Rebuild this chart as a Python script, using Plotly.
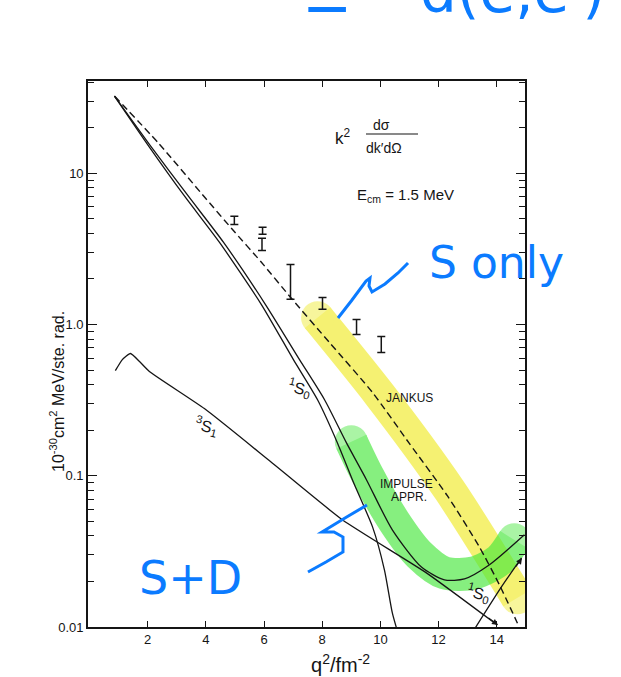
import plotly.graph_objects as go

# ---------------- data (q^2 in fm^-2, k^2 dsigma/dk'dOmega in 1e-30 cm^2 MeV/ste. rad.) ----------------
jankus_q2 = [0.86, 2.40, 4.02, 4.91, 5.91, 6.94, 8.25, 9.73, 11.0, 12.3, 13.4, 14.09, 14.71]
jankus_val = [32.4, 15.6, 6.73, 4.26, 2.58, 1.49, 0.76, 0.355, 0.163, 0.0738, 0.0339, 0.0190, 0.0106]

s0_q2 = [0.86, 2.06, 3.27, 4.47, 5.91, 7.01, 7.84, 8.52, 9.11, 9.73, 10.14, 10.41, 10.62]
s0_val = [32.4, 14.9, 7.05, 3.49, 1.355, 0.586, 0.318, 0.1655, 0.0871, 0.0459, 0.0238, 0.0124, 0.0089]

s0b_q2 = [13.13, 14.16, 14.85]
s0b_val = [0.0090, 0.0184, 0.0286]

impulse_q2 = [0.86, 2.13, 3.40, 4.61, 6.05, 7.22, 8.08, 8.83, 9.52, 10.41, 11.41, 12.2, 12.89, 13.75, 14.95]
impulse_val = [32.4, 14.9, 7.05, 3.49, 1.355, 0.586, 0.318, 0.1655, 0.0942, 0.0439, 0.0249, 0.0205, 0.0208, 0.0258, 0.0407]

s1_q2 = [0.89, 1.13, 1.41, 1.72, 2.06, 3.95, 6.19, 8.69, 11.58, 14.02]
s1_val = [0.495, 0.586, 0.643, 0.569, 0.489, 0.278, 0.1256, 0.0512, 0.0228, 0.0103]

# measured points: error-bar extent
exp_q2 = [4.98, 5.95, 5.93, 6.91, 8.01, 9.18, 10.03]
exp_hi = [5.19, 4.39, 3.72, 2.49, 1.51, 1.08, 0.834]
exp_lo = [4.59, 3.95, 3.09, 1.47, 1.26, 0.86, 0.653]

# hand-drawn highlighter strokes
yellow_q2 = [7.84, 9.97, 12.37, 14.71]
yellow_val = [1.11, 0.344, 0.0807, 0.0156]
green_q2 = [9.0, 9.55, 10.48, 11.34, 12.2, 13.23, 14.09, 14.6]
green_val = [0.168, 0.1016, 0.0496, 0.030, 0.0228, 0.0228, 0.0278, 0.0377]

x_ticks = [2, 4, 6, 8, 10, 12, 14]
y_ticks = [0.01, 0.1, 1.0, 10]
y_tick_text = ["0.01", "0.1", "1.0", "10"]

# ---------------- layout geometry ----------------
W, H = 621, 677
L, R, T, B = 88, 525, 81, 627
INK = "#151515"
BLUE = "#0b7bff"
FONT = "Liberation Sans"
HAND = "DejaVu Sans"


def pp(x, y):
    """pixel position -> paper coordinates"""
    return (x - L) / (R - L), (B - y) / (B - T)


fig = go.Figure()

# highlighter strokes (underneath the curves)
for xs, ys, col in [(yellow_q2, yellow_val, "rgb(240,235,40)"),
                    (green_q2, green_val, "rgb(70,232,60)")]:
    w = 33
    sizes = [w] + [0] * (len(xs) - 2) + [w]
    fig.add_trace(go.Scatter(x=xs, y=ys, mode="lines+markers", opacity=0.65,
                             line=dict(color=col, width=w, shape="spline", smoothing=0.8),
                             marker=dict(size=sizes, color=col, line=dict(width=0)),
                             hoverinfo="skip", showlegend=False))

fig.add_trace(go.Scatter(x=jankus_q2, y=jankus_val, mode="lines",
                         line=dict(color=INK, width=1.4, dash="7px,4px", shape="spline", smoothing=0.6),
                         showlegend=False))
fig.add_trace(go.Scatter(x=s0_q2, y=s0_val, mode="lines",
                         line=dict(color=INK, width=1.3, shape="spline", smoothing=0.6),
                         showlegend=False))
fig.add_trace(go.Scatter(x=s0b_q2, y=s0b_val, mode="lines",
                         line=dict(color=INK, width=1.3, shape="spline", smoothing=0.6),
                         showlegend=False))
fig.add_trace(go.Scatter(x=impulse_q2, y=impulse_val, mode="lines",
                         line=dict(color=INK, width=1.3, shape="spline", smoothing=0.7),
                         showlegend=False))
fig.add_trace(go.Scatter(x=s1_q2, y=s1_val, mode="lines",
                         line=dict(color=INK, width=1.3, shape="spline", smoothing=0.5),
                         showlegend=False))

# data points with error bars
centres = [(h * l) ** 0.5 for h, l in zip(exp_hi, exp_lo)]
fig.add_trace(go.Scatter(
    x=exp_q2, y=centres, mode="markers",
    marker=dict(size=1, color="rgba(0,0,0,0)"),
    error_y=dict(type="data", symmetric=False,
                 array=[h - c for h, c in zip(exp_hi, centres)],
                 arrayminus=[c - l for l, c in zip(exp_lo, centres)],
                 color=INK, thickness=1.5, width=4),
    showlegend=False))

ann = []


def label(x, y, text, size=11, angle=0, color=INK, font=FONT, **kw):
    px, py = pp(x, y)
    ann.append(dict(x=px, y=py, xref="paper", yref="paper", text=text, showarrow=False,
                    textangle=angle, font=dict(family=font, size=size, color=color),
                    xanchor=kw.pop("xanchor", "center"), yanchor=kw.pop("yanchor", "middle"), **kw))


# curve labels
label(409, 398, "JANKUS", 12)
label(406, 484, "IMPULSE", 12)
label(409, 497, "APPR.", 12)
label(299, 388, "<sup>1</sup>S<sub>0</sub>", 16, angle=14)
label(478, 593, "<sup>1</sup>S<sub>0</sub>", 16, angle=14)
label(206, 426, "<sup>3</sup>S<sub>1</sub>", 16, angle=14)

# quantity plotted
label(343, 137, "k<sup>2</sup>", 17)
label(381, 125, "dσ", 14)
label(384, 148, "dk′dΩ", 14)
label(405, 195, "E<sub>cm</sub> = 1.5 MeV", 15)

# axis titles
label(57, 392, "10<sup>-30</sup>cm<sup>2</sup> MeV/ste. rad.", 16, angle=-90)
label(340, 663, "q<sup>2</sup>/fm<sup>-2</sup>", 20)

# handwriting
label(496, 262, "S only", 44, color=BLUE, font=HAND)
label(190, 578, "S+D", 46, color=BLUE, font=HAND)
label(300, 38, "=", 60, color=BLUE, font=HAND, xanchor="left", yanchor="bottom")
label(418, 28, "d(e,e′)", 58, color=BLUE, font=HAND, xanchor="left", yanchor="bottom")

# arrow tips at the ends of two curves
for (tx, ty, dx, dy) in [(498, 625, -11, -8), (522, 558, -7, 10)]:
    px, py = pp(tx, ty)
    ann.append(dict(x=px, y=py, xref="paper", yref="paper", ax=dx, ay=dy, text="",
                    showarrow=True, arrowhead=2, arrowsize=1, arrowwidth=1.2, arrowcolor=INK))

shapes = []
# fraction bar
x0, y0 = pp(366, 134)
x1, _ = pp(418, 134)
shapes.append(dict(type="line", xref="paper", yref="paper", x0=x0, y0=y0, x1=x1, y1=y0,
                   line=dict(color=INK, width=1.2)))


def stroke(points, width=3):
    pts = [pp(x, y) for x, y in points]
    path = "M " + " L ".join(f"{a:.4f},{b:.4f}" for a, b in pts)
    shapes.append(dict(type="path", xref="paper", yref="paper", path=path,
                       line=dict(color=BLUE, width=width)))


# pointer squiggles
stroke([(338, 318), (352, 300), (366, 281), (370, 278), (369, 286), (372, 292), (385, 284), (398, 273), (408, 263)])
stroke([(367, 505), (345, 518), (322, 532), (334, 532), (343, 537), (343, 552), (326, 562), (308, 572)])

minor_vals = [m * d for d in (0.01, 0.1, 1, 10) for m in range(2, 10) if m * d < 41]

axis_common = dict(showline=True, linecolor=INK, linewidth=1.6, mirror="ticks",
                   ticks="inside", tickcolor=INK, tickwidth=1.4, showgrid=False, zeroline=False,
                   tickfont=dict(family=FONT, size=13, color=INK))

fig.update_layout(
    width=W, height=H,
    margin=dict(l=L, r=W - R, t=T, b=H - B, autoexpand=False),
    paper_bgcolor="white", plot_bgcolor="white",
    xaxis=dict(range=[-0.05, 14.97], tickmode="array", tickvals=x_ticks, ticklen=6, **axis_common),
    yaxis=dict(type="log", range=[-2, 1.61], tickmode="array", tickvals=y_ticks,
               ticktext=y_tick_text, ticklen=9,
               minor=dict(tickmode="array", tickvals=minor_vals, ticks="inside", ticklen=6,
                          tickcolor=INK, tickwidth=1.2, showgrid=False),
               **axis_common),
    annotations=ann, shapes=shapes, showlegend=False,
)

fig.write_html("out.html")
